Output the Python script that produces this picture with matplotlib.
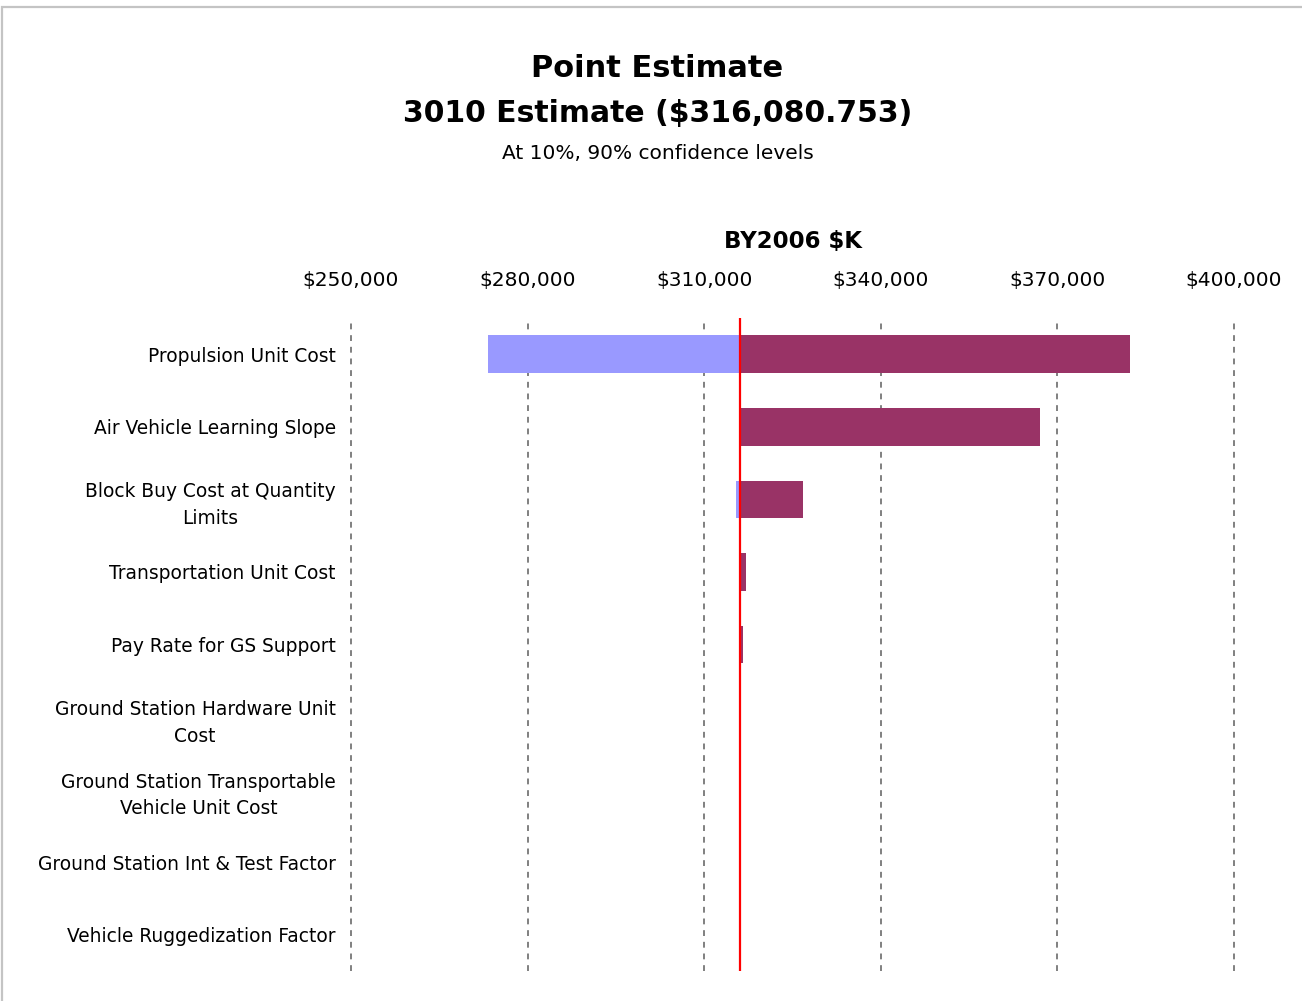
import matplotlib.pyplot as plt
from matplotlib.patches import Rectangle
from matplotlib.ticker import FuncFormatter

plt.rcParams['text.parse_math'] = False

# point estimate and the 10% / 90% results for each driver
point_estimate = 316080.753
drivers = [
    'Propulsion Unit Cost',
    'Air Vehicle Learning Slope',
    'Block Buy Cost at Quantity\nLimits',
    'Transportation Unit Cost',
    'Pay Rate for GS Support',
    'Ground Station Hardware Unit\nCost',
    'Ground Station Transportable\nVehicle Unit Cost',
    'Ground Station Int & Test Factor',
    'Vehicle Ruggedization Factor',
]
low_values = [273300, 316080.753, 315400, 316080.753, 316080.753,
              316080.753, 316080.753, 316080.753, 316080.753]
high_values = [382300, 367100, 326700, 317100, 316600,
               316150, 316100, 316080.753, 316080.753]
cost_ticks = [250000, 280000, 310000, 340000, 370000, 400000]

fig = plt.figure(figsize=(13.02, 10.01), dpi=100)
ax = fig.add_axes([0.2696, 0.03, 0.6782, 0.6523])

# outer chart frame
fig.patches.append(Rectangle((0.0015, -0.05), 1.1, 1.043, transform=fig.transFigure,
                             fill=False, edgecolor='#c4c4c4', linewidth=1.6))

y = range(len(drivers))
lows = [lo - point_estimate for lo in low_values]
highs = [hi - point_estimate for hi in high_values]
ax.barh(y, lows, left=point_estimate, height=0.52, color='#9999FF', zorder=2)
ax.barh(y, highs, left=point_estimate, height=0.52, color='#993366', zorder=3)
ax.axvline(point_estimate, color='#FF0000', linewidth=1.6, zorder=4)

ax.set_xlim(250000, 400000)
ax.set_ylim(len(drivers) - 0.5, -0.5)
ax.set_xticks(cost_ticks)
ax.xaxis.set_major_formatter(FuncFormatter(lambda v, p: '${:,.0f}'.format(v)))
ax.xaxis.tick_top()
ax.xaxis.set_label_position('top')
ax.set_xlabel('BY2006 $K', fontsize=16.5, fontweight='bold', labelpad=17)
ax.tick_params(axis='x', length=0, pad=20, labelsize=14.5)
ax.set_yticks(list(y))
ax.set_yticklabels(drivers, fontsize=13.4)
for lab in ax.get_yticklabels():
    lab.set_multialignment('center')
    lab.set_linespacing(1.5)
ax.tick_params(axis='y', length=0, pad=11)

ax.grid(axis='x', color='#808080', linestyle=(0, (3, 3)), linewidth=1.4, zorder=1)
for gl in ax.get_xgridlines():
    gl.set_clip_on(False)
ax.set_axisbelow(True)
for s in ax.spines.values():
    s.set_visible(False)

fig.text(0.505, 0.932, 'Point Estimate', ha='center', va='center',
         fontsize=22, fontweight='bold')
fig.text(0.505, 0.887, '3010 Estimate ($316,080.753)', ha='center', va='center',
         fontsize=21.5, fontweight='bold')
fig.text(0.505, 0.847, 'At 10%, 90% confidence levels', ha='center', va='center',
         fontsize=14.5)

fig.savefig('out.png', dpi=100, facecolor='white')
